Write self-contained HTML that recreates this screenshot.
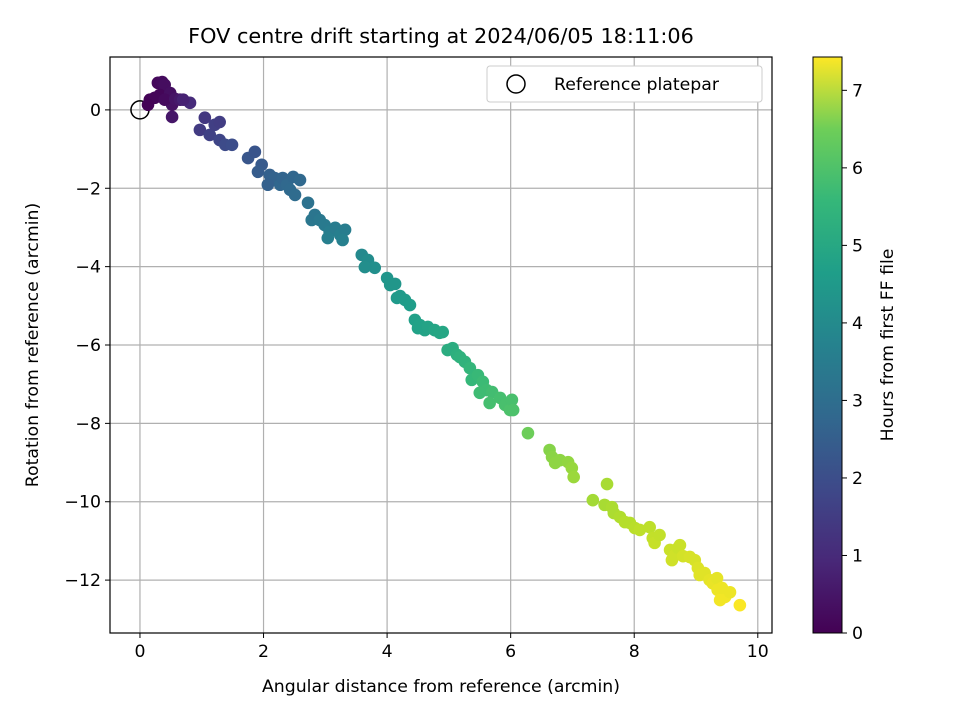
<!DOCTYPE html>
<html><head><meta charset="utf-8"><style>
body{margin:0;background:#fff}
svg{display:block;font-family:"DejaVu Sans","Liberation Sans",sans-serif}
</style></head><body>
<svg id="chart" width="960" height="720" viewBox="0 0 960 720">
<defs><linearGradient id="vir" x1="0" y1="1" x2="0" y2="0">
<stop offset="0" stop-color="#440154"/><stop offset="0.125" stop-color="#482878"/><stop offset="0.25" stop-color="#3e4989"/><stop offset="0.375" stop-color="#31688e"/><stop offset="0.5" stop-color="#26828e"/><stop offset="0.625" stop-color="#1f9e89"/><stop offset="0.75" stop-color="#35b779"/><stop offset="0.875" stop-color="#6ece58"/><stop offset="1" stop-color="#fde725"/></linearGradient></defs>
<text x="441" y="43" text-anchor="middle" font-size="20.8">FOV centre drift starting at 2024/06/05 18:11:06</text>
<g id="grid"></g><g id="pts"></g><g id="axes"></g>
<text x="441" y="692" text-anchor="middle" font-size="17.3">Angular distance from reference (arcmin)</text>
<text transform="translate(38,345) rotate(-90)" text-anchor="middle" font-size="17.3">Rotation from reference (arcmin)</text>
<rect x="813" y="57" width="29" height="576" fill="url(#vir)" stroke="#000" stroke-width="1"/>
<g id="cbticks"></g>
<text transform="translate(893,345) rotate(-90)" text-anchor="middle" font-size="17.3">Hours from first FF file</text>
<g>
<rect x="487" y="66" width="275" height="36" rx="3" fill="#fff" stroke="#ccc" stroke-width="1"/>
<circle cx="516" cy="84" r="9" fill="none" stroke="#000" stroke-width="1.5"/>
<text x="554" y="90" font-size="17.3">Reference platepar</text>
</g>
</svg>
<script>
const xs=[0.29,0.36,0.40,0.32,0.49,0.16,0.24,0.52,0.40,0.13,0.57,0.65,0.52,0.81,0.70,0.97,1.05,1.13,1.21,1.29,1.38,1.49,1.29,1.75,1.86,1.97,1.91,2.10,2.18,2.27,2.31,2.38,2.43,2.48,2.51,2.59,2.07,2.72,2.78,2.83,2.91,2.99,3.07,3.16,3.04,3.24,3.32,3.28,3.59,3.69,3.80,3.64,4.00,4.05,4.13,4.16,4.21,4.29,4.37,4.45,4.53,4.61,4.50,4.66,4.77,4.85,4.90,4.98,5.06,5.13,5.18,5.26,5.34,5.37,5.47,5.55,5.61,5.50,5.70,5.83,5.91,5.99,6.02,6.04,5.66,6.28,6.63,6.67,6.72,6.80,6.93,6.99,7.02,7.33,7.56,7.52,7.64,7.67,7.77,7.85,7.93,8.01,8.09,8.25,8.30,8.33,8.41,8.58,8.61,8.66,8.71,8.74,8.79,8.90,8.98,9.03,9.06,9.14,9.22,9.27,9.34,9.35,9.39,9.47,9.55,9.71,9.42];
const ys=[0.69,0.71,0.64,0.38,0.43,0.26,0.31,0.13,0.26,0.13,0.28,0.26,-0.18,0.18,0.26,-0.51,-0.20,-0.64,-0.38,-0.77,-0.89,-0.89,-0.31,-1.23,-1.07,-1.40,-1.58,-1.66,-1.74,-1.91,-1.74,-1.91,-2.04,-1.71,-2.17,-1.79,-1.91,-2.37,-2.81,-2.68,-2.81,-2.94,-3.11,-3.01,-3.27,-3.19,-3.06,-3.32,-3.70,-3.83,-4.03,-4.01,-4.29,-4.47,-4.44,-4.80,-4.75,-4.85,-4.98,-5.36,-5.49,-5.62,-5.57,-5.54,-5.62,-5.69,-5.67,-6.13,-6.08,-6.25,-6.31,-6.43,-6.59,-6.89,-6.77,-6.94,-7.15,-7.22,-7.20,-7.35,-7.53,-7.66,-7.40,-7.66,-7.48,-8.25,-8.68,-8.86,-9.01,-8.94,-8.99,-9.14,-9.37,-9.96,-9.55,-10.08,-10.14,-10.29,-10.39,-10.52,-10.54,-10.67,-10.72,-10.65,-10.93,-11.05,-10.85,-11.23,-11.49,-11.36,-11.18,-11.11,-11.39,-11.41,-11.49,-11.69,-11.87,-11.82,-12.00,-12.08,-11.95,-12.25,-12.51,-12.43,-12.31,-12.64,-12.20];
const hours=[0.15,0.2,0.25,0.1,0.3,0.05,0.1,0.35,0.2,0.05,0.4,0.5,0.45,0.9,0.7,1.3,1.2,1.45,1.4,1.55,1.7,1.75,1.35,2.0,1.95,2.1,2.15,2.3,2.35,2.45,2.4,2.5,2.55,2.45,2.6,2.5,2.3,2.8,2.95,2.9,3.0,3.05,3.15,3.1,3.2,3.2,3.15,3.25,3.5,3.6,3.7,3.65,3.85,3.9,3.9,4.0,4.0,4.05,4.1,4.2,4.25,4.3,4.25,4.3,4.35,4.4,4.4,4.6,4.6,4.7,4.75,4.8,4.9,4.95,5.0,5.05,5.1,5.1,5.15,5.2,5.25,5.3,5.25,5.3,5.2,5.75,6.05,6.1,6.15,6.15,6.2,6.25,6.3,6.4,6.45,6.45,6.5,6.5,6.55,6.6,6.6,6.65,6.7,6.7,6.75,6.8,6.75,6.85,6.9,6.9,6.85,6.85,6.95,7.0,7.0,7.05,7.1,7.1,7.15,7.2,7.15,7.25,7.3,7.3,7.25,7.4,7.25];
const xTicks=[0,2,4,6,8,10];
const yTicks=[0,-2,-4,-6,-8,-10,-12];
const cTicks=[0,1,2,3,4,5,6,7];
const X0=110,X1=772,Y0=57,Y1=633,XMIN=-0.485,XMAX=10.23,YMIN=-13.35,YMAX=1.35,CMAX=7.43;
const sx=v=>X0+(v-XMIN)/(XMAX-XMIN)*(X1-X0);
const sy=v=>Y1-(v-YMIN)/(YMAX-YMIN)*(Y1-Y0);
const sc=v=>Y1-v/CMAX*(Y1-Y0);
const NS="http://www.w3.org/2000/svg";
const vir=[[68,1,84],[72,40,120],[62,73,137],[49,104,142],[38,130,142],[31,158,137],[53,183,121],[110,206,88],[181,222,43],[253,231,37]];
function color(h){let t=Math.max(0,Math.min(1,h/CMAX))*(vir.length-1);let i=Math.min(vir.length-2,Math.floor(t)),f=t-i;const c=vir[i].map((a,k)=>Math.round(a+(vir[i+1][k]-a)*f));return `rgb(${c.join(',')})`;}
function mk(tag,attrs,parent){const e=document.createElementNS(NS,tag);for(const k in attrs)e.setAttribute(k,attrs[k]);parent.appendChild(e);return e;}
const grid=document.getElementById('grid'),axes=document.getElementById('axes'),pts=document.getElementById('pts'),cb=document.getElementById('cbticks');
xTicks.forEach(v=>{const x=sx(v);
const g=mk('line',{x1:x,x2:x,y1:Y0,y2:Y1,stroke:'#b0b0b0','stroke-width':1.2},grid);


mk('line',{x1:x,x2:x,y1:Y1,y2:Y1+5,stroke:'#000','stroke-width':1},axes);
const t=mk('text',{x:x,y:Y1+24,'text-anchor':'middle','font-size':17.3},axes);t.textContent=String(v);

});
yTicks.forEach(v=>{const y=sy(v);
const g=mk('line',{x1:X0,x2:X1,y1:y,y2:y,stroke:'#b0b0b0','stroke-width':1.2},grid);


mk('line',{x1:X0-5,x2:X0,y1:y,y2:y,stroke:'#000','stroke-width':1},axes);
const t=mk('text',{x:X0-9,y:y+6,'text-anchor':'end','font-size':17.3},axes);t.textContent=(v<0?'\u2212'+(-v):String(v));

});
const fr=mk('rect',{x:X0,y:Y0,width:X1-X0,height:Y1-Y0,fill:'none',stroke:'#000','stroke-width':1.2},axes);


const ref=mk('circle',{cx:sx(0),cy:sy(0),r:9,fill:'none',stroke:'#000','stroke-width':1.5},pts);


xs.forEach((x,i)=>{const c=mk('circle',{cx:sx(x),cy:sy(ys[i]),r:6.3,fill:color(hours[i])},pts);

});
cTicks.forEach(v=>{const y=sc(v);
mk('line',{x1:842,x2:847,y1:y,y2:y,stroke:'#000','stroke-width':1},cb);
const t=mk('text',{x:852,y:y+6,'font-size':17.3},cb);t.textContent=String(v);

});
</script>
</body></html>
